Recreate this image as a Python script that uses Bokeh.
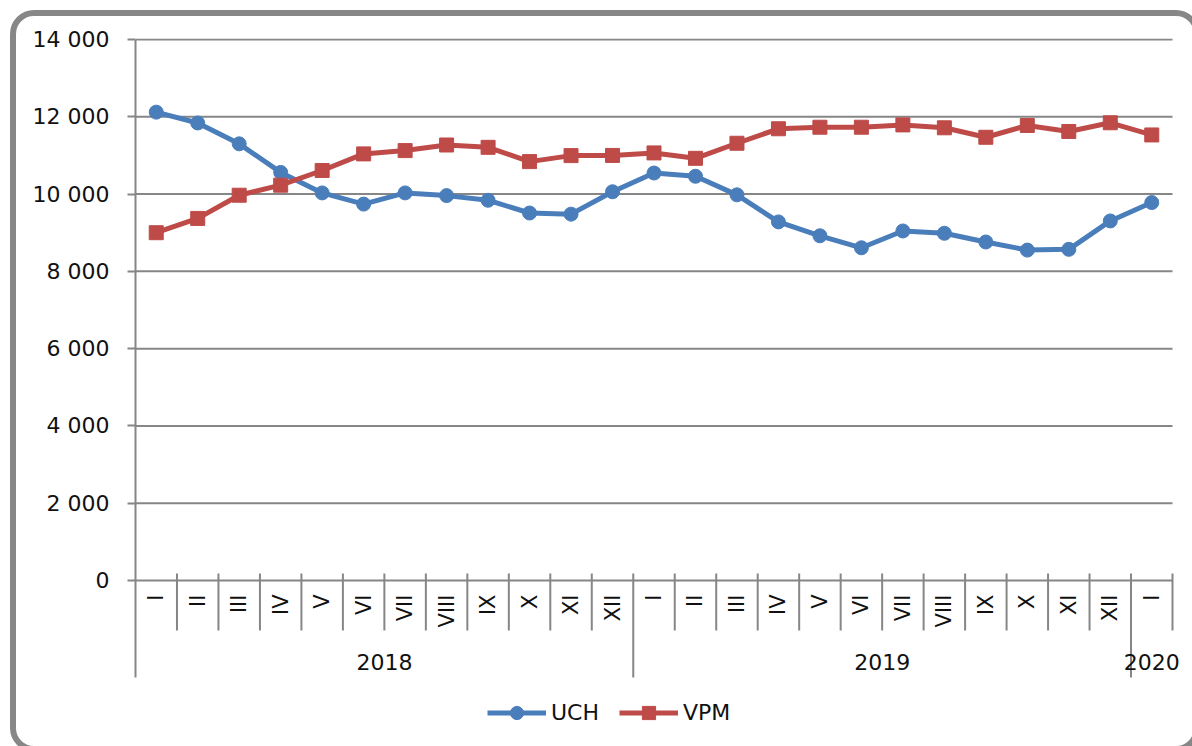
import math
from bokeh.plotting import figure
from bokeh.models import Range1d, FixedTicker, ColumnDataSource, Legend, LegendItem
from bokeh.embed import file_html
from bokeh.resources import INLINE
from bokeh.core.properties import value

# ---------------- data ----------------
month_labels = ["I", "II", "III", "IV", "V", "VI", "VII", "VIII", "IX", "X", "XI", "XII",
                "I", "II", "III", "IV", "V", "VI", "VII", "VIII", "IX", "X", "XI", "XII",
                "I"]
year_labels = ["2018", "2019", "2020"]
year_sizes = [12, 12, 1]

uch = [12120, 11840, 11300, 10560, 10030, 9740, 10030, 9960, 9840, 9510, 9480, 10060,
       10545, 10460, 9980, 9280, 8920, 8610, 9045, 8985, 8760, 8550, 8570, 9305, 9780]
vpm = [9000, 9370, 9970, 10230, 10610, 11040, 11125, 11270, 11210, 10840, 10995, 11000,
       11065, 10925, 11315, 11690, 11730, 11730, 11790, 11715, 11470, 11775, 11620, 11845, 11530]

y_ticks = [0, 2000, 4000, 6000, 8000, 10000, 12000, 14000]
y_tick_labels = ["0", "2 000", "4 000", "6 000", "8 000", "10 000", "12 000", "14 000"]

# ---------------- geometry ----------------
W, H = 1192, 746
FL, FT = 135, 38            # frame left / top in canvas px
Y0_PX, YMAX_PX = 580, 39    # canvas px of value 0 and 14000
CAT_PX = 1037 / 25.0        # px per category
UPP = y_ticks[-1] / (Y0_PX - YMAX_PX)   # data units per px

n = len(month_labels)
x_end = (W - FL) / CAT_PX
y_end = y_ticks[-1] + (YMAX_PX - FT) * UPP
y_start = -(H - Y0_PX) * UPP

GRID = "#868686"
BLUE = "#4A7EBB"
RED = "#BE4B48"
FONT = "DejaVu Sans"

border_css = """
:host { position: relative; overflow: hidden; }
:host::after {
  content: "";
  position: absolute;
  left: 10px; top: 10px;
  width: 1190px; height: 742px;
  box-sizing: border-box;
  border: 6px solid #878787;
  border-radius: 24px;
  pointer-events: none;
}
"""

p = figure(width=W, height=H, output_backend="svg", toolbar_location=None,
           x_range=Range1d(0, x_end), y_range=Range1d(y_start, y_end),
           x_axis_type=None, min_border_left=FL, min_border_top=FT,
           min_border_right=0, min_border_bottom=0,
           stylesheets=[border_css])
p.outline_line_color = None
p.xgrid.visible = False
p.ygrid.visible = False
p.background_fill_color = "white"
p.border_fill_color = "white"

# y axis
ax = p.yaxis[0]
ax.ticker = FixedTicker(ticks=y_ticks)
ax.major_label_overrides = {t: l for t, l in zip(y_ticks, y_tick_labels)}
ax.bounds = (-(677 - 580) * UPP, y_ticks[-1])
ax.axis_line_color = GRID
ax.axis_line_width = 2
ax.major_tick_line_color = GRID
ax.major_tick_line_width = 2
ax.major_tick_out = 8
ax.major_tick_in = 0
ax.minor_tick_line_color = None
ax.major_label_text_font = FONT
ax.major_label_text_font_size = "22px"
ax.major_label_text_color = "#111111"
ax.major_label_standoff = 18

# horizontal gridlines
p.segment(x0=[0] * len(y_ticks), x1=[n] * len(y_ticks), y0=y_ticks, y1=y_ticks,
          line_color=GRID, line_width=2)

# category separators
year_bounds = [0]
for s in year_sizes:
    year_bounds.append(year_bounds[-1] + s)
short_x = [i for i in range(1, n + 1) if i not in year_bounds[:-1] or i == n]
long_x = [b for b in year_bounds[1:-1]]
p.segment(x0=short_x, x1=short_x, y0=[7 * UPP] * len(short_x), y1=[-50 * UPP] * len(short_x),
          line_color=GRID, line_width=2)
p.segment(x0=long_x, x1=long_x, y0=[7 * UPP] * len(long_x), y1=[-97 * UPP] * len(long_x),
          line_color=GRID, line_width=2)

# month labels
xs = [i + 0.5 for i in range(n)]
p.text(x=xs, y=[-14 * UPP] * n, text=month_labels, angle=math.pi / 2,
       text_align="right", text_baseline="middle", text_font=value(FONT),
       text_font_size="21px", text_color="#111111")

# year labels
yc = [(year_bounds[i] + year_bounds[i + 1]) / 2 for i in range(len(year_labels))]
p.text(x=yc, y=[-81 * UPP] * len(yc), text=year_labels, text_align="center",
       text_baseline="middle", text_font=value(FONT), text_font_size="22px",
       text_color="#111111")

# series
src = ColumnDataSource(dict(x=xs, uch=uch, vpm=vpm))
l1 = p.line("x", "uch", source=src, line_color=BLUE, line_width=5)
m1 = p.scatter("x", "uch", source=src, marker="circle", size=14, fill_color=BLUE, line_color=BLUE)
l2 = p.line("x", "vpm", source=src, line_color=RED, line_width=5)
m2 = p.scatter("x", "vpm", source=src, marker="square", size=14, fill_color=RED, line_color=RED)

legend = Legend(items=[LegendItem(label="UCH", renderers=[l1, m1]),
                       LegendItem(label="VPM", renderers=[l2, m2])],
                orientation="horizontal", location=(352, 17),
                glyph_width=59, glyph_height=33, label_standoff=5, spacing=20,
                padding=0, margin=0, border_line_color=None, background_fill_alpha=0,
                label_text_font=FONT, label_text_font_size="22px", label_text_color="#111111")
p.add_layout(legend, "center")

open("out.html", "w").write(file_html(p, INLINE))
